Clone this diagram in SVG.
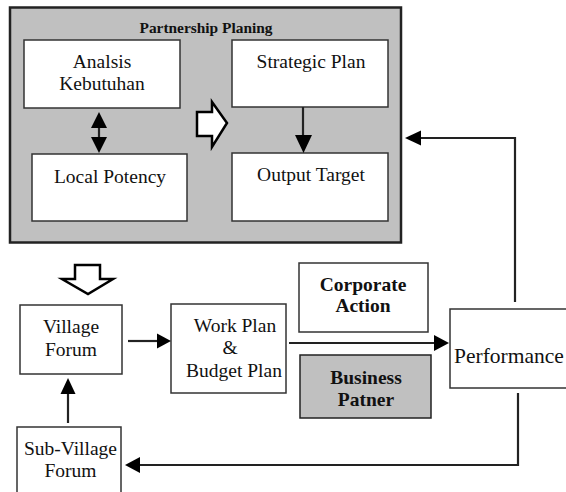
<svg xmlns="http://www.w3.org/2000/svg" width="566" height="492" viewBox="0 0 566 492">
<style>
.t{font-family:'Liberation Serif','Times New Roman',Tinos,'DejaVu Serif',serif;font-size:19.5px;fill:#111;text-anchor:middle}
.b{font-weight:bold}
.box{fill:#fff;stroke:#333;stroke-width:1.5}
.ln{fill:none;stroke:#222;stroke-width:2.2}
.hd{fill:#000;stroke:none}
.blk{fill:#fff;stroke:#000;stroke-width:2.5;stroke-linejoin:miter}
</style>
<rect x="0" y="0" width="566" height="492" fill="#fff"/>
<g id="partnership">
<rect x="10" y="7.5" width="391" height="235" fill="#c0c0c0" stroke="#222" stroke-width="2.5"/>
<text class="t b" x="206" y="33" style="font-size:15.4px">Partnership Planing</text>
</g>
<g id="analsis">
<rect class="box" x="24" y="40" width="156" height="68" stroke="#222"/>
<text class="t" x="102" y="68">Analsis</text>
<text class="t" x="102" y="90">Kebutuhan</text>
</g>
<g id="local">
<rect class="box" x="32" y="154" width="155" height="67" stroke="#222"/>
<text class="t" x="110" y="183">Local Potency</text>
</g>
<g id="strategic">
<rect class="box" x="232" y="40" width="156" height="67" stroke="#222"/>
<text class="t" x="311" y="68">Strategic Plan</text>
</g>
<g id="output">
<rect class="box" x="232" y="153" width="156" height="68" stroke="#222"/>
<text class="t" x="311" y="181">Output Target</text>
</g>
<g id="village">
<rect class="box" x="20" y="305" width="102" height="69"/>
<text class="t" x="71" y="333">Village</text>
<text class="t" x="71" y="356">Forum</text>
</g>
<g id="workplan">
<rect class="box" x="171" y="304" width="115" height="89"/>
<text class="t" x="235" y="332">Work Plan</text>
<text class="t" x="230" y="354">&amp;</text>
<text class="t" x="234" y="377">Budget Plan</text>
</g>
<g id="corporate">
<rect class="box" x="299" y="263" width="129" height="69" stroke="#222"/>
<text class="t b" x="363" y="291">Corporate</text>
<text class="t b" x="363" y="312">Action</text>
</g>
<g id="business">
<rect x="300" y="355" width="131" height="63" fill="#c0c0c0" stroke="#222" stroke-width="1.5"/>
<text class="t b" x="366" y="384">Business</text>
<text class="t b" x="366" y="406">Patner</text>
</g>
<g id="performance">
<rect class="box" x="450" y="309" width="122" height="79"/>
<text class="t" x="454" y="363" style="text-anchor:start;font-size:21.5px">Performance</text>
</g>
<g id="subvillage">
<rect class="box" x="17" y="427" width="104" height="70"/>
<text class="t" x="70.5" y="455">Sub-Village</text>
<text class="t" x="70.5" y="477">Forum</text>
</g>
<g id="connectors">
<line class="ln" x1="99" y1="126" x2="99" y2="139" stroke-width="3"/>
<polygon class="hd" points="99,112 107,128 91,128"/>
<polygon class="hd" points="91,137 107,137 99,153"/>
<polygon class="blk" points="197,112 212,112 212,102 227,123 212,147 212,136 197,136"/>
<line class="ln" x1="303" y1="107" x2="303" y2="137"/>
<polygon class="hd" points="295,135 312,135 303.5,153"/>
<polygon class="blk" points="75,265 100,265 100,279 113,279 88,294 62,279 75,279"/>
<line class="ln" x1="128" y1="341" x2="158" y2="341"/>
<polygon class="hd" points="157,333.5 157,348.5 171,341"/>
<line class="ln" x1="289" y1="343" x2="436" y2="343" stroke-width="2.6"/>
<polygon class="hd" points="434,335 434,351 449,343"/>
<line class="ln" x1="68" y1="423" x2="68" y2="392"/>
<polygon class="hd" points="60.5,394 75.5,394 68,378"/>
<polyline class="ln" points="518,393 518,465 138,465"/>
<polygon class="hd" points="140,457 140,473 125,465"/>
<polyline class="ln" points="515,302 515,138 420,138"/>
<polygon class="hd" points="421,130.5 421,145.5 405,138"/>
</g>
</svg>
